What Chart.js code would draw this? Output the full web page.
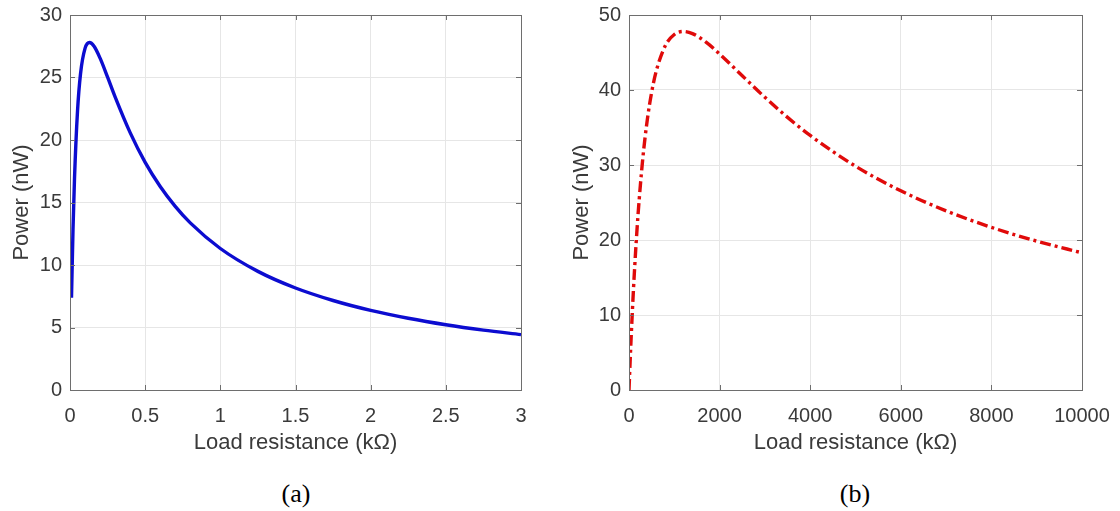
<!DOCTYPE html>
<html><head><meta charset="utf-8">
<script src="https://cdn.jsdelivr.net/npm/chart.js@4.4.0/dist/chart.umd.min.js"></script>
<style>
html,body{margin:0;padding:0;background:#fff;width:1120px;height:511px;overflow:hidden}
.wrap{position:absolute;top:0;width:560px;height:470px}
.cap{position:absolute;top:479px;width:100px;text-align:center;font-family:"Liberation Serif","Times New Roman",serif;font-size:26px;line-height:30px;color:#000}
</style>
</head><body>
<div class="wrap" style="left:0"><canvas id="ca" width="560" height="470"></canvas></div>
<div class="wrap" style="left:560px"><canvas id="cb" width="560" height="470"></canvas></div>
<div class="cap" style="left:246px">(a)</div>
<div class="cap" style="left:805px">(b)</div>
<script>
// Panel (a): load resistance (kΩ) vs power (nW)
const resistanceA = [0.01,0.02,0.03,0.05,0.07,0.1,0.13,0.16,0.2,0.25,0.3,0.4,0.5,0.6,0.7,0.8,1.0,1.25,1.5,1.75,2.0,2.25,2.5,2.75,3.0];
const powerA      = [7.38,12.85,16.94,22.31,25.30,27.33,27.80,27.50,26.55,25.03,23.45,20.59,18.21,16.28,14.69,13.37,11.32,9.49,8.16,7.16,6.37,5.74,5.22,4.79,4.43];
// Panel (b)
const resistanceB = [0,25,50,100,150,200,300,400,500,600,800,1000,1200,1400,1700,2000,2500,3000,3500,4000,5000,6000,7000,8000,9000,10000];
const powerB      = [0,3.82,7.34,13.58,18.88,23.41,30.59,35.85,39.70,42.49,45.89,47.40,47.80,47.52,46.38,44.81,41.90,39.02,36.35,33.94,29.84,26.56,23.89,21.69,19.85,18.29];
const xTitle = 'Load resistance (k\u03A9)';
const yTitle = 'Power (nW)';

const FONT = '"Liberation Sans", Arial, Helvetica, sans-serif';
const TXT = '#3a3a3a';
const GRID = '#e6e6e6';
const BOX = '#6e6e6e';

const boxPlugin = {
  id: 'box',
  afterDraw(chart) {
    const {ctx, chartArea: a, scales} = chart;
    ctx.save();
    ctx.strokeStyle = BOX;
    ctx.lineWidth = 1;
    ctx.beginPath();
    const L = 5;
    scales.x.ticks.forEach(t => {
      const px = Math.round(scales.x.getPixelForValue(t.value)) + 0.5;
      ctx.moveTo(px, a.bottom); ctx.lineTo(px, a.bottom - L);
      ctx.moveTo(px, a.top); ctx.lineTo(px, a.top + L);
    });
    scales.y.ticks.forEach(t => {
      const py = Math.round(scales.y.getPixelForValue(t.value)) + 0.5;
      ctx.moveTo(a.left, py); ctx.lineTo(a.left + L, py);
      ctx.moveTo(a.right, py); ctx.lineTo(a.right - L, py);
    });
    ctx.stroke();
    ctx.strokeRect(Math.round(a.left)+0.5, Math.round(a.top)+0.5, Math.round(a.right-a.left), Math.round(a.bottom-a.top));
    ctx.restore();
  }
};

function makeChart(id, xs, ys, xmax, xstep, ymax, ystep, color, dash, padLeft, padRight) {
  const pts = xs.map((x, i) => ({x, y: ys[i]}));
  return new Chart(document.getElementById(id), {
    type: 'line',
    data: { datasets: [{
      data: pts, borderColor: color, borderWidth: 3.4, borderDash: dash,
      pointRadius: 0, cubicInterpolationMode: 'monotone', fill: false
    }]},
    options: {
      responsive: false, animation: false, devicePixelRatio: 1,
      layout: { padding: { left: 0, right: padRight, top: 15, bottom: 0 } },
      plugins: { legend: { display: false }, tooltip: { enabled: false } },
      scales: {
        x: {
          type: 'linear', min: 0, max: xmax,
          afterFit: s => { s.height = 80; s.paddingLeft = 0; s.paddingRight = 0; },
          grid: { color: GRID, drawTicks: false, tickLength: 0 },
          border: { display: false },
          ticks: { stepSize: xstep, padding: 14, color: TXT, font: { family: FONT, size: 20 }, maxRotation: 0, callback: v => String(v) },
          title: { display: true, text: xTitle, color: TXT, font: { family: FONT, size: 22 }, padding: { top: 0, bottom: 14 } }
        },
        y: {
          min: 0, max: ymax,
          afterFit: s => { s.width = padLeft; s.paddingTop = 0; s.paddingBottom = 0; },
          grid: { color: GRID, drawTicks: false, tickLength: 0 },
          border: { display: false },
          ticks: { stepSize: ystep, padding: 8, color: TXT, font: { family: FONT, size: 20 }, callback: v => String(v) },
          title: { display: true, text: yTitle, color: TXT, font: { family: FONT, size: 22 }, padding: { top: 9, bottom: 0 } }
        }
      }
    },
    plugins: [boxPlugin]
  });
}

makeChart('ca', resistanceA, powerA, 3, 0.5, 30, 5, '#0c0cd0', [], 70, 39);
makeChart('cb', resistanceB, powerB, 10000, 2000, 50, 10, '#e00a0a', [11,4,3,4], 69, 38);
</script>
</body></html>
